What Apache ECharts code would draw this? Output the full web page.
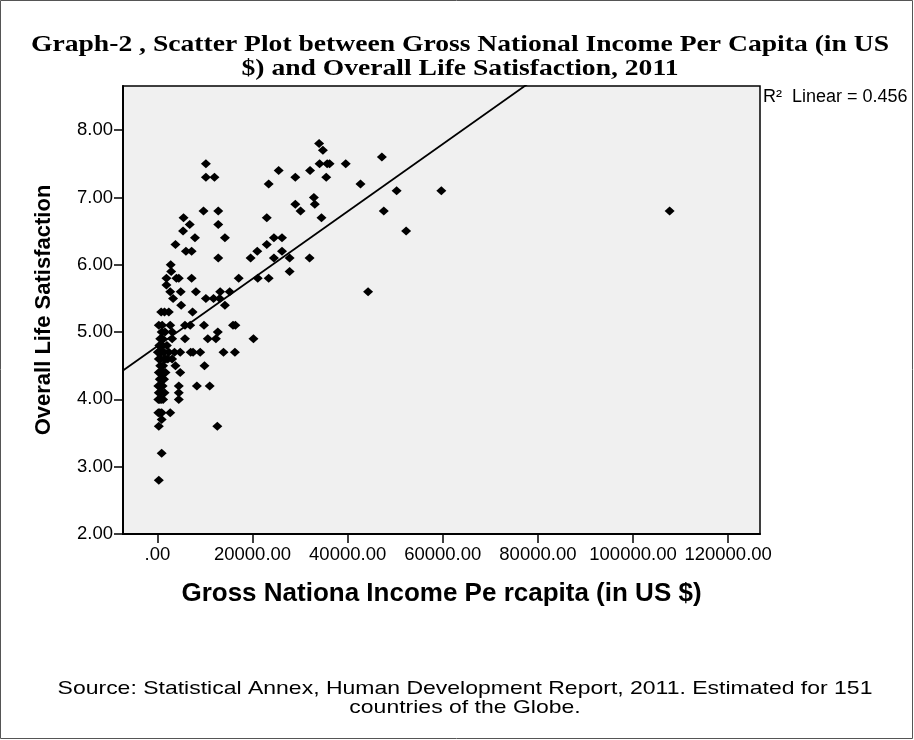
<!DOCTYPE html>
<html>
<head>
<meta charset="utf-8">
<title>GNI per capita vs life satisfaction</title>
<script src="https://cdn.jsdelivr.net/npm/echarts@6/dist/echarts.min.js"></script>
<style>
  html, body { margin: 0; padding: 0; background: #ffffff; }
  #chart { width: 914px; height: 740px; }
</style>
</head>
<body>
<div id="chart"></div>
<script>
// Gross National Income per capita (US $), one entry per country
const gniPerCapita = [
  34000, 34800, 10200, 34100, 35700, 36200, 39600, 10200, 12000, 25500,
  29000, 32100, 35500, 23400, 42700, 29000, 30100, 32900, 33100, 34500,
  9700, 12800, 5500, 6800, 5400, 12800, 7900, 14200, 23000, 3800,
  6000, 7200, 12800, 23000, 24500, 26200, 21000, 19600, 24500, 26200,
  27800, 32000, 27800, 2800, 2900, 1900, 4000, 4500, 7200, 1900,
  17100, 21100, 23400, 2700, 4900, 8100, 13200, 15200, 3300, 10200,
  11800, 13100, 5000, 14200, 800, 2400, 7400, 44300,
  300, 2700, 5800, 6900, 9800, 15900, 16400,
  1600, 3100, 12700,
  1100, 3100, 5800, 10600, 12300, 20200,
  1100,
  100, 1400, 2400, 3600, 4800, 7000, 7500, 9000, 13900, 16300,
  300, 1500, 3100,
  3800, 9900,
  300, 1700, 4800,
  500,
  200, 1100, 4500, 8300, 11000,
  300, 1500, 4500,
  200, 800, 4500,
  200, 900, 2700,
  900,
  300, 12600,
  900,
  300,
  47200, 50300, 59700, 47600, 52300, 107700,
  400, 2000, 600, 900, 700, 2200, 600, 1200, 800, 1200,
  1000, 1400, 500, 800, 500, 1200, 500, 900, 600, 1000,
  1500, 1800
];

// Overall life satisfaction score, same country order
const lifeSatisfaction = [
  7.8, 7.7, 7.5, 7.5, 7.5, 7.5, 7.5, 7.3, 7.3, 7.4,
  7.3, 7.4, 7.3, 7.2, 7.2, 6.9, 6.8, 7.0, 6.9, 6.7,
  6.8, 6.8, 6.7, 6.6, 6.5, 6.6, 6.4, 6.4, 6.7, 6.3,
  6.2, 6.2, 6.1, 6.3, 6.4, 6.4, 6.2, 6.1, 6.1, 6.2,
  6.1, 6.1, 5.9, 6.0, 5.9, 5.8, 5.8, 5.8, 5.8, 5.7,
  5.8, 5.8, 5.8, 5.6, 5.6, 5.6, 5.6, 5.6, 5.5, 5.5,
  5.5, 5.5, 5.4, 5.4, 5.3, 5.3, 5.3, 5.6,
  5.1, 5.1, 5.1, 5.1, 5.1, 5.1, 5.1,
  5.0, 5.0, 5.0,
  4.9, 4.9, 4.9, 4.9, 4.9, 4.9,
  4.8,
  4.7, 4.7, 4.7, 4.7, 4.7, 4.7, 4.7, 4.7, 4.7, 4.7,
  4.6, 4.6, 4.6,
  4.5, 4.5,
  4.4, 4.4, 4.4,
  4.3,
  4.2, 4.2, 4.2, 4.2, 4.2,
  4.1, 4.1, 4.1,
  4.0, 4.0, 4.0,
  3.8, 3.8, 3.8,
  3.7,
  3.6, 3.6,
  3.2,
  2.8,
  7.6, 7.1, 7.1, 6.8, 6.5, 6.8,
  4.8, 4.8, 4.7, 4.7, 4.6, 4.6, 4.5, 4.5, 4.4, 4.4,
  4.3, 4.3, 4.2, 4.1, 4.0, 4.0, 3.8, 5.0, 4.9, 5.1,
  5.3, 4.6
];

// Axis tick values
const xTicks = [0, 20000, 40000, 60000, 80000, 100000, 120000];
const yTicks = [2, 3, 4, 5, 6, 7, 8];

// Axis extents
const xAxisMin = -7230;
const xAxisMax = 126700;
const yAxisMin = 2;
const yAxisMax = 8.656;

// Least-squares fit line: satisfaction = intercept + slope * income
const fitIntercept = 4.791;
const fitSlope = 0.00005004;
const fitR2 = 0.456;

const chartTitle = 'Graph-2 , Scatter Plot between Gross National Income Per Capita (in US\n$) and Overall Life Satisfaction, 2011';
const sourceNote = 'Source: Statistical Annex, Human Development Report, 2011. Estimated for 151\ncountries of the Globe.';

const points = gniPerCapita.map((x, i) => [x, lifeSatisfaction[i]]);
const fitLine = [
  [xAxisMin, fitIntercept + fitSlope * xAxisMin],
  [xAxisMax, fitIntercept + fitSlope * xAxisMax]
];

const chart = echarts.init(document.getElementById('chart'), null, { renderer: 'canvas' });

const sans = '"Liberation Sans", Arial, sans-serif';
const serif = '"Liberation Serif", "Times New Roman", serif';

chart.setOption({
  animation: false,
  backgroundColor: '#ffffff',
  grid: {
    left: 123,
    top: 86,
    right: 154,
    bottom: 206,
    show: true,
    backgroundColor: '#f0f0f0',
    borderColor: '#000',
    borderWidth: 1.5
  },
  xAxis: {
    type: 'value',
    min: xAxisMin,
    max: xAxisMax,
    name: 'Gross Nationa Income Pe rcapita (in US $)',
    nameLocation: 'middle',
    nameGap: 47,
    nameTextStyle: { fontFamily: sans, fontWeight: 'bold', fontSize: 26, color: '#000' },
    splitLine: { show: false },
    axisLine: { show: true, onZero: false, lineStyle: { color: '#000', width: 2 } },
    axisTick: { show: true, customValues: xTicks, length: 9, lineStyle: { color: '#000', width: 1.5 } },
    axisLabel: {
      customValues: xTicks,
      margin: 11,
      fontFamily: sans,
      fontSize: 18.5,
      color: '#000',
      formatter: v => (v === 0 ? '.00' : v.toFixed(2))
    }
  },
  yAxis: {
    type: 'value',
    min: yAxisMin,
    max: yAxisMax,
    name: 'Overall Life Satisfaction',
    nameLocation: 'middle',
    nameGap: 68,
    nameTextStyle: { fontFamily: sans, fontWeight: 'bold', fontSize: 22, color: '#000' },
    splitLine: { show: false },
    axisLine: { show: true, onZero: false, lineStyle: { color: '#000', width: 2 } },
    axisTick: { show: true, customValues: yTicks, length: 9, lineStyle: { color: '#000', width: 1.5 } },
    axisLabel: {
      customValues: yTicks,
      margin: 10,
      fontFamily: sans,
      fontSize: 18.5,
      color: '#000',
      formatter: v => v.toFixed(2)
    }
  },
  graphic: [
    {
      type: 'rect',
      shape: { x: 0.5, y: 0.5, width: 912, height: 738 },
      style: { fill: 'none', stroke: '#555', lineWidth: 1 },
      silent: true
    },
    {
      // chart heading, widened to the page like a stretched printout
      type: 'text',
      x: 460,
      y: 33,
      scaleX: 1.15,
      style: {
        text: chartTitle,
        font: 'bold 24px ' + serif,
        align: 'center',
        verticalAlign: 'top',
        lineHeight: 24,
        fill: '#000'
      },
      silent: true
    },
    {
      type: 'text',
      x: 465,
      y: 679,
      scaleX: 1.21,
      style: {
        text: sourceNote,
        font: '19px ' + sans,
        align: 'center',
        verticalAlign: 'top',
        lineHeight: 19,
        fill: '#000'
      },
      silent: true
    },
    {
      type: 'text',
      left: 763,
      top: 88,
      style: {
        text: 'R\u00b2  Linear = ' + fitR2.toFixed(3),
        font: '18px ' + sans,
        fill: '#000'
      },
      silent: true
    }
  ],
  series: [
    {
      name: 'Countries',
      type: 'scatter',
      data: points,
      symbol: 'diamond',
      symbolSize: [10, 9],
      itemStyle: { color: '#000', opacity: 1 },
      silent: true
    },
    {
      name: 'Linear fit',
      type: 'line',
      data: fitLine,
      symbol: 'none',
      clip: true,
      lineStyle: { color: '#000', width: 1.8 },
      silent: true,
      z: 3
    }
  ]
});
</script>
</body>
</html>
